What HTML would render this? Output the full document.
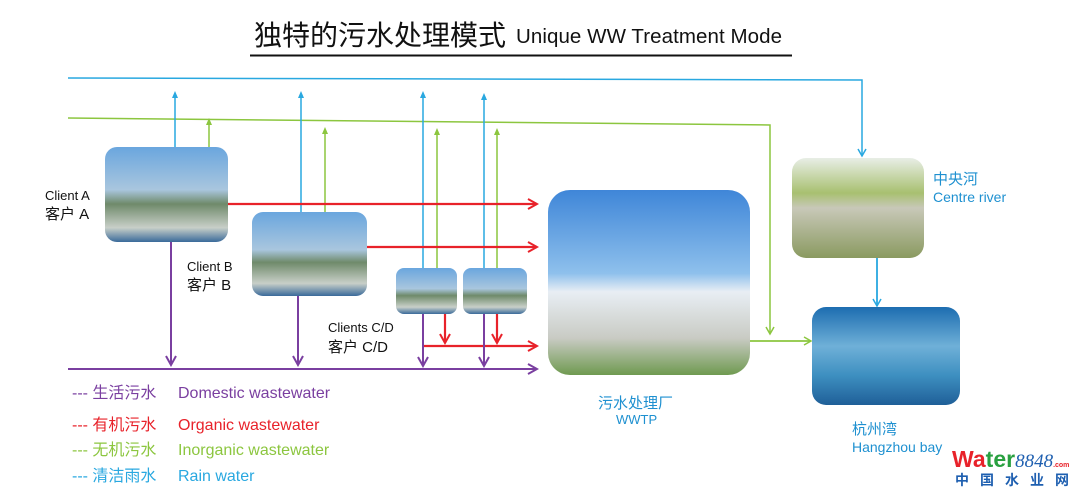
<!DOCTYPE html>
<html><head><meta charset="utf-8"><style>
html,body{margin:0;padding:0;background:#fff;}
svg{display:block;font-family:"Liberation Sans","Noto Sans CJK SC",sans-serif;}
</style></head><body>
<svg width="1080" height="493" viewBox="0 0 1080 493" xmlns="http://www.w3.org/2000/svg">
<defs>
<linearGradient id="ind" x1="0" y1="0" x2="0" y2="1">
<stop offset="0" stop-color="#6aa6de"/><stop offset="0.45" stop-color="#a9c6de"/><stop offset="0.6" stop-color="#6f8a6a"/><stop offset="0.85" stop-color="#c8cfc8"/><stop offset="1" stop-color="#3a6a9a"/></linearGradient>
<linearGradient id="wwtp" x1="0" y1="0" x2="0" y2="1">
<stop offset="0" stop-color="#3f86d8"/><stop offset="0.45" stop-color="#8ec0ec"/><stop offset="0.55" stop-color="#e8eef4"/><stop offset="0.8" stop-color="#c9cbc4"/><stop offset="1" stop-color="#6f9a50"/></linearGradient>
<linearGradient id="river" x1="0" y1="0" x2="0" y2="1">
<stop offset="0" stop-color="#e8eee6"/><stop offset="0.35" stop-color="#a8c070"/><stop offset="0.5" stop-color="#c8c8b8"/><stop offset="1" stop-color="#8a9a60"/></linearGradient>
<linearGradient id="bay" x1="0" y1="0" x2="0" y2="1">
<stop offset="0" stop-color="#1d6db0"/><stop offset="0.4" stop-color="#6fb0d8"/><stop offset="0.7" stop-color="#3d8fc0"/><stop offset="1" stop-color="#1f5f98"/></linearGradient>
<marker id="ab" markerWidth="10" markerHeight="10" refX="8" refY="5" orient="auto" markerUnits="userSpaceOnUse"><path d="M1,1 L8,5 L1,9" fill="none" stroke="#29a8e0" stroke-width="1.5"/></marker>
<marker id="ag" markerWidth="10" markerHeight="10" refX="8" refY="5" orient="auto" markerUnits="userSpaceOnUse"><path d="M1,1 L8,5 L1,9" fill="none" stroke="#8cc63f" stroke-width="1.5"/></marker>
<marker id="ar" markerWidth="12" markerHeight="12" refX="10" refY="6" orient="auto" markerUnits="userSpaceOnUse"><path d="M1,1 L10,6 L1,11" fill="none" stroke="#e8222a" stroke-width="2"/></marker>
<marker id="ap" markerWidth="12" markerHeight="12" refX="10" refY="6" orient="auto" markerUnits="userSpaceOnUse"><path d="M1,1 L10,6 L1,11" fill="none" stroke="#7a3fa0" stroke-width="2"/></marker>
<marker id="ab2" markerWidth="8" markerHeight="8" refX="4" refY="4" orient="auto" markerUnits="userSpaceOnUse"><path d="M0,1 L7,4 L0,7 Z" fill="#29a8e0"/></marker>
<marker id="ag2" markerWidth="8" markerHeight="8" refX="4" refY="4" orient="auto" markerUnits="userSpaceOnUse"><path d="M0,1 L7,4 L0,7 Z" fill="#8cc63f"/></marker>
</defs>

<text x="254" y="45" font-size="28" fill="#111">独特的污水处理模式</text>
<text x="516" y="43" font-size="20.5" fill="#111" textLength="266">Unique WW Treatment Mode</text>
<line x1="250" y1="55.5" x2="792" y2="55.5" stroke="#111" stroke-width="2"/>

<polyline points="68,78 862,80 862,156" fill="none" stroke="#29a8e0" stroke-width="1.5" marker-end="url(#ab)"/>
<polyline points="68,118 770,125 770,334" fill="none" stroke="#8cc63f" stroke-width="1.5" marker-end="url(#ag)"/>

<g stroke-width="1.5" fill="none">
<line x1="175" y1="147" x2="175" y2="94" stroke="#29a8e0" marker-end="url(#ab2)"/>
<line x1="209" y1="147" x2="209" y2="121" stroke="#8cc63f" marker-end="url(#ag2)"/>
<line x1="301" y1="212" x2="301" y2="94" stroke="#29a8e0" marker-end="url(#ab2)"/>
<line x1="325" y1="212" x2="325" y2="130" stroke="#8cc63f" marker-end="url(#ag2)"/>
<line x1="423" y1="268" x2="423" y2="94" stroke="#29a8e0" marker-end="url(#ab2)"/>
<line x1="437" y1="268" x2="437" y2="131" stroke="#8cc63f" marker-end="url(#ag2)"/>
<line x1="484" y1="268" x2="484" y2="96" stroke="#29a8e0" marker-end="url(#ab2)"/>
<line x1="497" y1="268" x2="497" y2="131" stroke="#8cc63f" marker-end="url(#ag2)"/>
</g>

<g stroke="#e8222a" stroke-width="2.2" fill="none">
<line x1="228" y1="204" x2="537" y2="204" marker-end="url(#ar)"/>
<line x1="367" y1="247" x2="537" y2="247" marker-end="url(#ar)"/>
<line x1="445" y1="314" x2="445" y2="343" marker-end="url(#ar)"/>
<line x1="497" y1="314" x2="497" y2="343" marker-end="url(#ar)"/>
<line x1="423" y1="346" x2="537" y2="346" marker-end="url(#ar)"/>
</g>

<g stroke="#7a3fa0" stroke-width="2" fill="none">
<line x1="68" y1="369" x2="537" y2="369" marker-end="url(#ap)"/>
<line x1="171" y1="242" x2="171" y2="365" marker-end="url(#ap)"/>
<line x1="298" y1="296" x2="298" y2="365" marker-end="url(#ap)"/>
<line x1="423" y1="314" x2="423" y2="366" marker-end="url(#ap)"/>
<line x1="484" y1="314" x2="484" y2="366" marker-end="url(#ap)"/>
</g>

<line x1="750" y1="341" x2="811" y2="341" stroke="#8cc63f" stroke-width="1.8" marker-end="url(#ag)"/>
<line x1="877" y1="258" x2="877" y2="306" stroke="#29a8e0" stroke-width="1.8" marker-end="url(#ab)"/>

<rect x="105" y="147" width="123" height="95" rx="12" fill="url(#ind)"/>
<rect x="252" y="212" width="115" height="84" rx="11" fill="url(#ind)"/>
<rect x="396" y="268" width="61" height="46" rx="8" fill="url(#ind)"/>
<rect x="463" y="268" width="64" height="46" rx="8" fill="url(#ind)"/>
<rect x="548" y="190" width="202" height="185" rx="22" fill="url(#wwtp)"/>
<rect x="792" y="158" width="132" height="100" rx="14" fill="url(#river)"/>
<rect x="812" y="307" width="148" height="98" rx="14" fill="url(#bay)"/>

<g fill="#111">
<text x="45" y="200" font-size="13">Client A</text>
<text x="45" y="219" font-size="15">客户 A</text>
<text x="187" y="271" font-size="13">Client B</text>
<text x="187" y="290" font-size="15">客户 B</text>
<text x="328" y="332" font-size="13">Clients C/D</text>
<text x="328" y="352" font-size="15">客户 C/D</text>
</g>
<g fill="#1e90d0">
<text x="598" y="408" font-size="15">污水处理厂</text>
<text x="616" y="424" font-size="13">WWTP</text>
<text x="933" y="184" font-size="15">中央河</text>
<text x="933" y="202" font-size="14">Centre river</text>
<text x="852" y="434" font-size="15">杭州湾</text>
<text x="852" y="452" font-size="14">Hangzhou bay</text>
</g>

<g font-size="16">
<text x="72" y="398" fill="#7a3fa0">--- 生活污水</text><text x="178" y="398" fill="#7a3fa0">Domestic wastewater</text>
<text x="72" y="430" fill="#e8222a">--- 有机污水</text><text x="178" y="430" fill="#e8222a">Organic wastewater</text>
<text x="72" y="455" fill="#8cc63f">--- 无机污水</text><text x="178" y="455" fill="#8cc63f">Inorganic wastewater</text>
<text x="72" y="481" fill="#29a8e0">--- 清洁雨水</text><text x="178" y="481" fill="#29a8e0">Rain water</text>
</g>

<text x="952" y="467" font-size="23" font-weight="bold" fill="#e8222a">Wa<tspan fill="#29a040">ter</tspan><tspan font-style="italic" font-weight="normal" font-size="19" fill="#1e5fb0" font-family="Liberation Serif, serif">8848</tspan><tspan font-size="7" fill="#e8222a">.com</tspan></text>
<text x="955" y="485" font-size="14" font-weight="bold" fill="#1e5fb0" letter-spacing="11">中国水业网</text>
</svg>
</body></html>
